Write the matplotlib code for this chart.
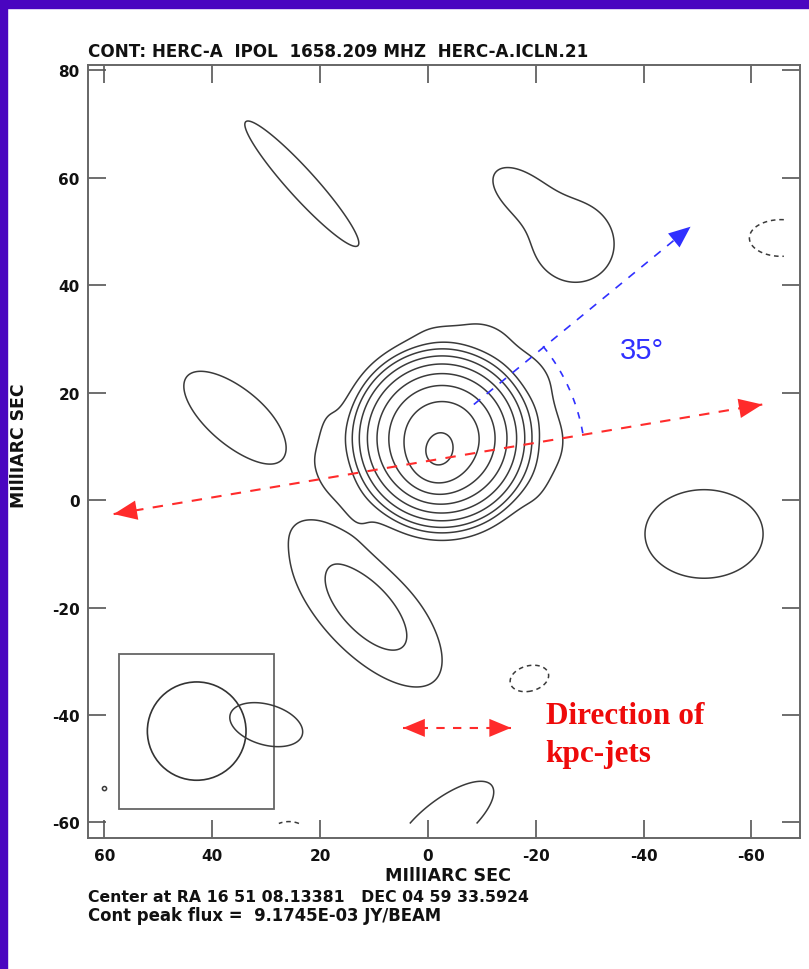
import numpy as np
import matplotlib
matplotlib.use("Agg")
import matplotlib.pyplot as plt
from matplotlib.patches import Rectangle, Ellipse

# ------------------------------------------------------------------ data
title = "CONT: HERC-A  IPOL  1658.209 MHZ  HERC-A.ICLN.21"
axis_label = "MIllIARC SEC"
footer1 = "Center at RA 16 51 08.13381   DEC 04 59 33.5924"
footer2 = "Cont peak flux =  9.1745E-03 JY/BEAM"

xticks = [60, 40, 20, 0, -20, -40, -60]
yticks = [80, 60, 40, 20, 0, -20, -40, -60]
xtick_labels = ["60", "40", "20", "0", "-20", "-40", "-60"]
ytick_labels = ["80", "60", "40", "20", "0", "-20", "-40", "-60"]

# contour levels (mJy/beam)
clev = 0.015
lev_mult = [-1, 1, 4, 8, 16, 32, 64, 128, 256, 512]

# map extent (milliarcsec)
map_x = (-66.0, 63.0)
map_y = (-60.2, 81.0)

# Gaussian model components of the map
# x0, y0 (mas), amplitude (mJy/beam), sigma major, sigma minor (mas), angle (deg)
comp_x0 = [-2.6, -1.6, -2.6,
           18.2, 14.4, -16.0, -21.8, -21.3, -4.5,
           23.4, -27.0, -17.0, -65.5, 35.5, -51.2, 11.5, 19.5, -18.8, 30.0, -3.0, 25.8, 60.0]
comp_y0 = [11.5, 7.3, 11.5,
           11.5, -0.4, 27.0, 16.6, 4.8, 31.6,
           58.9, 48.0, 57.5, 48.8, 15.3, -6.3, -20.0, -7.0, -33.2, -41.8, -60.0, -62.2, -53.7]
comp_amp = [8.5, 2.6, -1.26,
            0.03, 0.028, 0.026, 0.03, 0.028, 0.022,
            0.03, 0.03, 0.025, -0.03, 0.03, 0.03, 0.105, 0.012, -0.03, 0.03, 0.03, -0.03, 0.017]
comp_smaj = [6.3, 3.0, 8.0,
             6.0, 6.0, 6.5, 6.0, 6.0, 7.5,
             13.2, 6.5, 5.5, 5.0, 10.2, 9.3, 9.45, 4.0, 3.1, 5.9, 9.5, 3.0, 0.8]
comp_smin = [6.3, 3.0, 8.0,
             2.2, 2.2, 2.2, 2.2, 2.2, 2.2,
             2.2, 6.2, 3.2, 2.9, 4.4, 7.0, 4.25, 2.5, 2.0, 3.2, 3.6, 2.0, 0.8]
comp_pa = [0, 0, 0,
           90, 55, 38, 75, 110, 3,
           48, 40, 38, 0, 40, 0, 47, 20, -15, 16, -38, 0, 0]

# restoring beam
beam_x, beam_y = 42.9, -43.0
beam_maj, beam_min, beam_pa = 18.3, 18.3, 0.0
beam_box = (28.5, -57.5, 28.8, 28.9)   # x, y, width, height

# annotations
jet_x = [58.3, -62.0]
jet_y = [-2.6, 17.8]
pc_x = [-8.5, -48.7]
pc_y = [17.8, 50.9]
arc_cx, arc_cy, arc_r = 6.25, 6.3, 35.5
arc_t = (141.0, 170.0)
small_x = [4.6, -15.4]
small_y = [-42.4, -42.4]
angle_text = "35°"
angle_pos = (-39.6, 27.9)
dir_text = ["Direction of", "kpc-jets"]
dir_pos = [(-21.8, -41.5), (-21.8, -48.6)]

# ------------------------------------------------------------------ figure
W, H = 809, 970
fig = plt.figure(figsize=(W / 100, H / 100), dpi=100)
fig.patch.set_facecolor("white")

def fx(px):
    return px / W

def fy(py):
    return 1 - py / H

purple = "#4a05c0"
fig.add_artist(Rectangle((0, fy(9)), 1, 9 / H, transform=fig.transFigure,
                         color=purple, zorder=0))
fig.add_artist(Rectangle((0, 0), 7 / W, 1, transform=fig.transFigure,
                         color=purple, zorder=0))

ax = fig.add_axes([fx(88), fy(839), (800 - 88) / W, (839 - 66) / H])
ax.set_xlim(63.06, -69.0)
ax.set_ylim(-62.9, 81.0)

# model map
gx = np.arange(map_x[0], map_x[1] + 1e-6, 0.2)
gy = np.arange(map_y[0], map_y[1] + 1e-6, 0.2)
X, Y = np.meshgrid(gx, gy)
Z = np.zeros_like(X)
for x0, y0, a, sj, sn, pa in zip(comp_x0, comp_y0, comp_amp, comp_smaj, comp_smin, comp_pa):
    t = np.deg2rad(pa)
    dx, dy = X - x0, Y - y0
    u = dx * np.cos(t) + dy * np.sin(t)
    v = -dx * np.sin(t) + dy * np.cos(t)
    Z += a * np.exp(-0.5 * ((u / sj) ** 2 + (v / sn) ** 2))

levels = clev * np.array(lev_mult, dtype=float)
styles = [(0, (3.0, 2.5)) if m < 0 else "solid" for m in lev_mult]
ax.contour(X, Y, Z, levels=levels, colors="#3a3a3a", linewidths=1.1,
           linestyles=styles)

# beam
ax.add_patch(Rectangle((beam_box[0], beam_box[1]), beam_box[2], beam_box[3],
                       fill=False, edgecolor="#666666", lw=1.3))
ax.add_patch(Ellipse((beam_x, beam_y), beam_min, beam_maj, angle=beam_pa,
                     fill=False, edgecolor="#333333", lw=1.2))

red = "#ff2b2b"
blue = "#3030ff"

def head(tip, tail, color, ms=14, hl=1.2, hw=0.5):
    ax.annotate("", xy=tip, xytext=tail,
                arrowprops=dict(arrowstyle=f"-|>,head_length={hl},head_width={hw}",
                                color=color, lw=0, shrinkA=0, shrinkB=0,
                                mutation_scale=ms))

# kpc jet direction line
ax.plot(jet_x, jet_y, color=red, lw=1.5, dashes=(5, 4.5))
head((jet_x[1], jet_y[1]), (jet_x[0], jet_y[0]), red)
head((jet_x[0], jet_y[0]), (jet_x[1], jet_y[1]), red)

# pc jet direction line
ax.plot(pc_x, pc_y, color=blue, lw=1.2, dashes=(5, 5))
head((pc_x[1], pc_y[1]), (pc_x[0], pc_y[0]), blue, ms=13)

# angle arc
tt = np.deg2rad(np.linspace(arc_t[0], arc_t[1], 60))
ax.plot(arc_cx + arc_r * np.cos(tt), arc_cy + arc_r * np.sin(tt),
        color=blue, lw=1.2, dashes=(4, 5))
ax.text(angle_pos[0], angle_pos[1], angle_text, color=blue, fontsize=21,
        family="Liberation Sans", ha="center", va="center")

# legend arrow
ax.plot(small_x, small_y, color=red, lw=1.5, dashes=(4, 4))
head((small_x[0], small_y[0]), (small_x[1], small_y[1]), red, ms=13)
head((small_x[1], small_y[1]), (small_x[0], small_y[0]), red, ms=13)
for txt, (px_, py_) in zip(dir_text, dir_pos):
    ax.text(px_, py_, txt, color="#ee0a0a", fontsize=22.5,
            family="Liberation Serif", fontweight="bold", ha="left", va="baseline")

# axes styling
for sp in ax.spines.values():
    sp.set_color("#666666")
    sp.set_linewidth(1.4)
ax.set_xticks(xticks)
ax.set_yticks(yticks)
ax.set_xticklabels(xtick_labels)
ax.set_yticklabels(ytick_labels)
ax.tick_params(axis="both", direction="in", length=13, width=1.2, color="#555555",
               top=True, right=True, labelsize=11, pad=6, labelcolor="#111111")
for lab in ax.get_xticklabels() + ax.get_yticklabels():
    lab.set_fontfamily("DejaVu Sans")
    lab.set_fontweight("bold")
ax.tick_params(axis="x", pad=7)
ax.tick_params(axis="y", pad=6)

# texts
fkw = dict(family="DejaVu Sans", fontweight="bold", color="#111111")
t_title = fig.text(fx(88), fy(57), title, ha="left", va="baseline", fontsize=12, **fkw)
t_xl = fig.text(fx(448), fy(881), axis_label, ha="center", va="baseline", fontsize=11, **fkw)
t_yl = fig.text(fx(19), fy(446), axis_label, ha="center", va="center", rotation=90,
                fontsize=11, **fkw)
t_f1 = fig.text(fx(88), fy(902), footer1, ha="left", va="baseline", fontsize=11, **fkw)
t_f2 = fig.text(fx(88), fy(921), footer2, ha="left", va="baseline", fontsize=11, **fkw)

fig.canvas.draw()
r = fig.canvas.get_renderer()
for t, target, vert in [(t_title, 500, False), (t_xl, 125, False), (t_yl, 123, True),
                        (t_f1, 437, False), (t_f2, 353, False)]:
    bb = t.get_window_extent(r)
    size = bb.height if vert else bb.width
    t.set_fontsize(t.get_fontsize() * target / size)

fig.savefig("out.png", dpi=100, facecolor="white")
